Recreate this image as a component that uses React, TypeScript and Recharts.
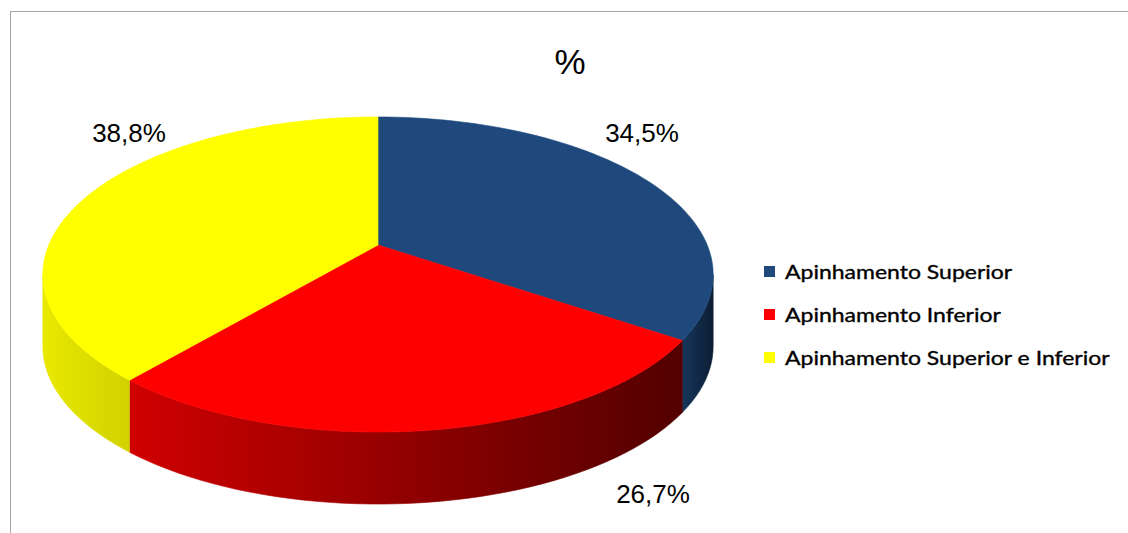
import React from 'react';
import { PieChart, Pie, Legend } from 'recharts';

const categories = ['Apinhamento Superior', 'Apinhamento Inferior', 'Apinhamento Superior e Inferior'];
const percentValues = [34.5, 26.7, 38.8];
const percentLabels = ['34,5%', '26,7%', '38,8%'];

const topColors = ['#1F497D', '#FF0000', '#FFFF00'];
const wallColors = [
  ['#17365d', '#0c1d33'],
  ['#d00000', '#520000'],
  ['#e8e800', '#d2d200'],
];

// hand placed data labels (offset from the pie centre), like the excel original
const labelOffsets = [
  [264, -103],
  [275, 258],
  [-249, -103],
];

const chartData = categories.map((name, i) => ({ name, value: percentValues[i] }));

// perspective of the tilted disc
const DIST = 5.34;
const SX = 5.248;
const SY = 12.94;
const DEPTH = 72;

const project = (cx: number, cy: number, r: number, deg: number) => {
  const a = (deg * Math.PI) / 180;
  const X = Math.cos(a);
  const Y = Math.sin(a);
  const d = DIST + Y;
  return [cx + (r * SX * X) / d, cy + r * SY * (1 / d - 1 / DIST)];
};

const arcPoints = (cx: number, cy: number, r: number, from: number, to: number, dy = 0) => {
  const steps = Math.max(8, Math.ceil(Math.abs(to - from) / 2));
  const pts: string[] = [];
  for (let s = 0; s <= steps; s++) {
    const deg = from + ((to - from) * s) / steps;
    const [x, y] = project(cx, cy, r, deg);
    pts.push(`${x.toFixed(2)},${(y + dy).toFixed(2)}`);
  }
  return pts;
};

// part of the rim that faces the viewer
const edge = (Math.asin(1 / DIST) * 180) / Math.PI;
const FRONT_LO = -180 + edge;
const FRONT_HI = -edge;

const frontParts = (a: number, b: number) => {
  const lo = Math.min(a, b);
  const hi = Math.max(a, b);
  const parts: number[][] = [];
  for (const shift of [-360, 0, 360]) {
    const l = Math.max(lo + shift, FRONT_LO);
    const h = Math.min(hi + shift, FRONT_HI);
    if (h > l) parts.push([l, h]);
  }
  return parts;
};

const renderSlice = (props: any) => {
  const { cx, cy, outerRadius, startAngle, endAngle } = props;
  let index = props.index;
  if (index === undefined) index = categories.indexOf(props.name ?? props.payload?.name);

  const walls = frontParts(startAngle, endAngle).map(([l, h]) => {
    const top = arcPoints(cx, cy, outerRadius, h, l);
    const bottom = arcPoints(cx, cy, outerRadius, l, h, DEPTH);
    return `M${top.join(' L')} L${bottom.join(' L')} Z`;
  });
  const face = `M${cx},${cy} L${arcPoints(cx, cy, outerRadius, startAngle, endAngle).join(' L')} Z`;
  const gradId = `wall-grad-${index}`;
  const [ox, oy] = labelOffsets[index];

  return (
    <g key={`slice-${index}`}>
      <defs>
        <linearGradient id={gradId} x1="0" y1="0" x2="1" y2="0">
          <stop offset="0%" stopColor={wallColors[index][0]} />
          <stop offset="100%" stopColor={wallColors[index][1]} />
        </linearGradient>
      </defs>
      {walls.map((d, k) => (
        <path key={k} d={d} fill={`url(#${gradId})`} stroke={`url(#${gradId})`} strokeWidth={0.6} />
      ))}
      <path d={face} fill={topColors[index]} stroke={topColors[index]} strokeWidth={0.6} />
      <text
        x={cx + ox}
        y={cy + oy}
        textAnchor="middle"
        fontFamily="'Liberation Sans', Arial, sans-serif"
        fontSize={26}
        fill="#000"
      >
        {percentLabels[index]}
      </text>
    </g>
  );
};

const renderLegend = () => (
  <div style={{ fontFamily: 'Lato, sans-serif', fontSize: 19, color: '#000' }}>
    {categories.map((name, i) => (
      <div key={name} style={{ display: 'flex', alignItems: 'center', height: 43 }}>
        <span style={{ display: 'inline-block', width: 11, height: 11, background: topColors[i], marginRight: 10 }} />
        <span
          style={{
            display: 'inline-block',
            whiteSpace: 'nowrap',
            transform: 'scaleX(1.21)',
            transformOrigin: 'left center',
            WebkitTextStroke: '0.35px #000',
          }}
        >
          {name}
        </span>
      </div>
    ))}
  </div>
);

export default function App() {
  return (
    <div
      style={{
        position: 'absolute',
        left: 0,
        top: 0,
        width: 1128,
        height: 533,
        background: '#fff',
        overflow: 'hidden',
      }}
    >
      <div
        style={{
          position: 'absolute',
          left: 10,
          top: 11,
          width: 1130,
          height: 540,
          borderTop: '1px solid #a6a6a6',
          borderLeft: '1px solid #a6a6a6',
        }}
      />
      <div
        style={{
          position: 'absolute',
          left: 520,
          top: 44,
          width: 100,
          textAlign: 'center',
          fontFamily: "'Liberation Sans', Arial, sans-serif",
          fontSize: 35,
          lineHeight: '35px',
        }}
      >
        %
      </div>
      <div style={{ position: 'absolute', left: 0, top: 0 }}>
        <PieChart width={1128} height={533} margin={{ top: 0, right: 0, bottom: 0, left: 0 }}>
          <Pie
            data={chartData}
            dataKey="value"
            nameKey="name"
            cx={378}
            cy={245}
            outerRadius={335}
            startAngle={90}
            endAngle={-270}
            fill="none"
            stroke="none"
            label={renderSlice}
            labelLine={false}
            isAnimationActive={false}
          />
          <Legend
            layout="vertical"
            verticalAlign="top"
            align="right"
            wrapperStyle={{ position: 'absolute', left: 764, top: 250, width: 364 }}
            content={renderLegend}
          />
        </PieChart>
      </div>
    </div>
  );
}
